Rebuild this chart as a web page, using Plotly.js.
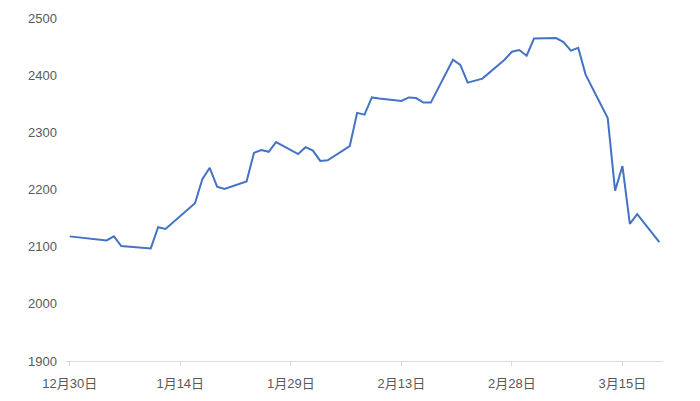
<!DOCTYPE html>
<html>
<head>
<meta charset="utf-8">
<script src="https://cdn.plot.ly/plotly-3.0.1.min.js"></script>
<style>html,body{margin:0;padding:0;background:#fff;}#chart{width:700px;height:401px;}</style>
</head>
<body>
<div id="chart"></div>
<script>
const dates = [
  "2022-12-30","2023-01-04","2023-01-05","2023-01-06","2023-01-10","2023-01-11","2023-01-12","2023-01-13",
  "2023-01-16","2023-01-17","2023-01-18","2023-01-19","2023-01-20",
  "2023-01-23","2023-01-24","2023-01-25","2023-01-26","2023-01-27",
  "2023-01-30","2023-01-31","2023-02-01","2023-02-02","2023-02-03",
  "2023-02-06","2023-02-07","2023-02-08","2023-02-09","2023-02-10",
  "2023-02-13","2023-02-14","2023-02-15","2023-02-16","2023-02-17",
  "2023-02-20","2023-02-21","2023-02-22","2023-02-24",
  "2023-02-27","2023-02-28","2023-03-01","2023-03-02","2023-03-03",
  "2023-03-06","2023-03-07","2023-03-08","2023-03-09","2023-03-10",
  "2023-03-13","2023-03-14","2023-03-15","2023-03-16","2023-03-17",
  "2023-03-20"
];
const values = [
  2118, 2111, 2118, 2101, 2097, 2134, 2131, 2142,
  2176, 2218, 2238, 2205, 2201,
  2214, 2264, 2269, 2266, 2283,
  2262, 2274, 2268, 2250, 2251,
  2276, 2334, 2331, 2361, 2359,
  2355, 2361, 2360, 2352, 2352,
  2427, 2418, 2387, 2394,
  2427, 2441, 2444, 2434, 2464,
  2465, 2458, 2443, 2448, 2401,
  2325, 2198, 2241, 2140, 2157,
  2108
];
const xTickVals = ["2022-12-30","2023-01-14","2023-01-29","2023-02-13","2023-02-28","2023-03-15"];
const xTickText = ["12月30日","1月14日","1月29日","2月13日","2月28日","3月15日"];
const yTickVals = [1900, 2000, 2100, 2200, 2300, 2400, 2500];

const fontFam = "Liberation Sans, Arial, 'Noto Sans CJK JP', sans-serif";

Plotly.newPlot("chart", [{
  x: dates,
  y: values,
  type: "scatter",
  mode: "lines",
  line: {color: "#4472C4", width: 2},
  hoverinfo: "skip"
}], {
  width: 700,
  height: 401,
  margin: {l: 66, r: 37, t: 18, b: 40},
  paper_bgcolor: "#ffffff",
  plot_bgcolor: "#ffffff",
  showlegend: false,
  font: {family: fontFam, size: 13, color: "#595959"},
  xaxis: {
    type: "date",
    range: ["2022-12-29 12:00", "2023-03-20 12:00"],
    tickmode: "array",
    tickvals: xTickVals,
    ticktext: xTickText,
    showgrid: false,
    zeroline: false,
    showline: true,
    linecolor: "#d9d9d9",
    linewidth: 1,
    ticks: "outside",
    ticklen: 4,
    tickcolor: "#d9d9d9",
    ticklabelstandoff: 6,
    tickfont: {family: fontFam, size: 13, color: "#595959"}
  },
  yaxis: {
    range: [1900, 2500],
    tickmode: "array",
    tickvals: yTickVals,
    showgrid: false,
    zeroline: false,
    showline: false,
    ticks: "",
    ticklabelstandoff: 8,
    tickfont: {family: fontFam, size: 13, color: "#595959"}
  }
}, {displayModeBar: false, staticPlot: true});
</script>
</body>
</html>
